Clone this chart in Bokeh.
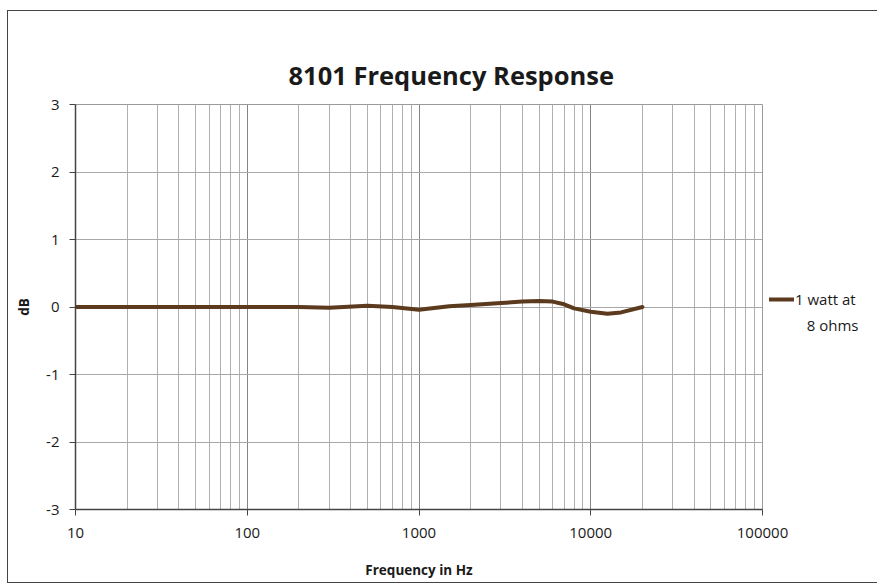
from bokeh.plotting import figure
from bokeh.models import (Range1d, LogTicker, FixedTicker, Legend, LegendItem,
                          CustomJSTickFormatter)
from bokeh.embed import file_html
from bokeh.resources import INLINE

freq_hz = [10, 20, 50, 100, 200, 300, 500, 700, 1000, 1500, 2000, 3000, 4000,
           5000, 6000, 7000, 8000, 10000, 12500, 15000, 20000]
response_db = [0.0, 0.0, 0.0, 0.0, 0.0, -0.01, 0.02, 0.0, -0.04, 0.01, 0.03,
               0.06, 0.08, 0.09, 0.08, 0.04, -0.02, -0.07, -0.10, -0.08, 0.0]
series_line1 = "1 watt at"
series_line2 = "\u00a0\u00a0\u00a08 ohms"
y_ticks = [-3, -2, -1, 0, 1, 2, 3]

FONT = "Open Sans"

p = figure(width=860, height=571, x_axis_type="log",
           x_range=Range1d(10, 100000), y_range=Range1d(-3, 3),
           output_backend="svg", toolbar_location=None,
           frame_width=687, frame_height=405,
           min_border_left=67, min_border_right=106,
           min_border_top=93, min_border_bottom=73,
           title="8101 Frequency Response",
           styles={"border": "1px solid #444444", "margin-left": "7px",
                   "margin-top": "10px"})

p.title.align = "left"
p.title.offset = 213
p.title.text_font = FONT
p.title.text_font_size = "25.5px"
p.title.text_font_style = "bold"
p.title.text_color = "#1a1a1a"
p.title.standoff = 25

p.background_fill_color = "white"
p.border_fill_color = "white"
p.outline_line_color = "#9a9a9a"
p.outline_line_width = 1

p.xaxis.ticker = LogTicker(num_minor_ticks=10)
p.yaxis.ticker = FixedTicker(ticks=y_ticks)

for ax in (p.xaxis[0], p.yaxis[0]):
    ax.axis_line_color = "#444444"
    ax.axis_line_width = 1.5
    ax.major_tick_line_color = "#444444"
    ax.major_tick_in = 0
    ax.major_tick_out = 6
    ax.minor_tick_line_color = None
    ax.major_label_text_font = FONT
    ax.major_label_text_font_size = "15px"
    ax.major_label_text_color = "#1a1a1a"
    ax.axis_label_text_font = FONT
    ax.axis_label_text_font_size = "13.5px"
    ax.axis_label_text_font_style = "bold"
    ax.axis_label_text_color = "#1a1a1a"
    ax.formatter = CustomJSTickFormatter(code="return String(Math.round(tick));")

p.xaxis.axis_label = "Frequency in Hz"
p.yaxis.axis_label = "dB"
p.xaxis.major_label_standoff = 12
p.xaxis.axis_label_standoff = 20
p.yaxis.major_label_standoff = 10
p.yaxis.axis_label_standoff = 10

p.xgrid.grid_line_color = "#858585"
p.xgrid.grid_line_width = 1
p.xgrid.minor_grid_line_color = "#b0b0b0"
p.xgrid.minor_grid_line_width = 1
p.ygrid.grid_line_color = "#a8a8a8"
p.ygrid.grid_line_width = 1

r = p.line(freq_hz, response_db, line_color="#5b3a1e", line_width=4,
           line_join="round", line_cap="round")
r_blank = p.line(freq_hz[:1], response_db[:1], line_alpha=0)

legend = Legend(items=[LegendItem(label=series_line1, renderers=[r]),
                       LegendItem(label=series_line2, renderers=[r_blank])],
                location=(7, 171), border_line_color=None,
                background_fill_alpha=0, margin=0, padding=2, spacing=0,
                label_text_font=FONT, label_text_font_size="15px",
                label_text_color="#1a1a1a", glyph_width=25, glyph_height=26,
                label_height=26, label_standoff=1)
p.add_layout(legend, "right")

open("out.html", "w").write(file_html(p, INLINE))
